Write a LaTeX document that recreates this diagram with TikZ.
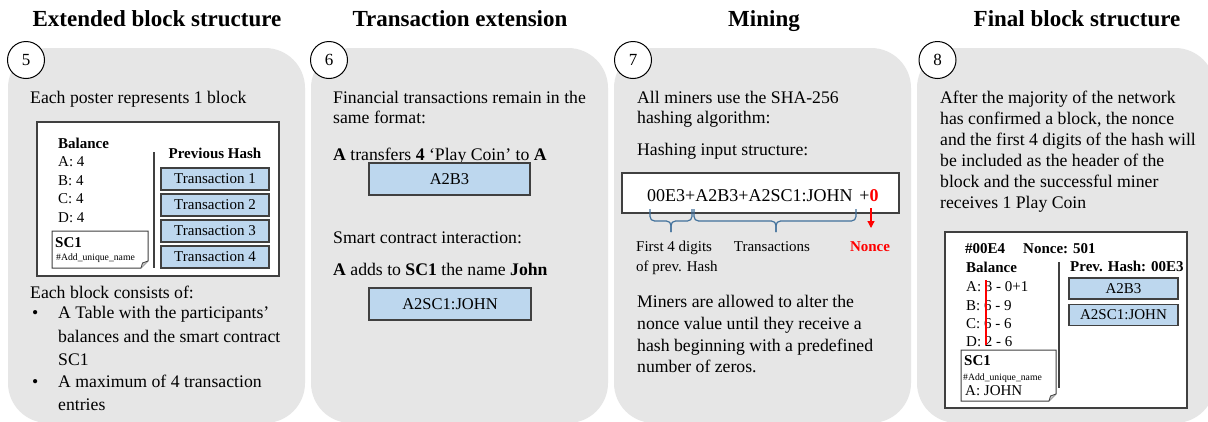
\documentclass[tikz,border=0pt]{standalone}
\usepackage{fontspec}
\setmainfont{Liberation Serif}
\usetikzlibrary{arrows.meta}
\definecolor{panelgray}{HTML}{E6E6E6}
\definecolor{txblue}{HTML}{BDD7EE}
\definecolor{boxgray}{HTML}{404040}
\definecolor{bracecol}{HTML}{41719C}
\definecolor{nred}{HTML}{FF0000}
\tikzset{
  panel/.style={fill=panelgray, draw=none, rounded corners=40pt},
  title/.style={font=\fontsize{23}{27}\selectfont\bfseries, anchor=base, inner sep=0pt},
  body/.style={font=\fontsize{17.7}{21}\selectfont, anchor=base west, inner sep=0pt},
  small/.style={font=\fontsize{15}{18}\selectfont, anchor=base west, inner sep=0pt},
  smallb/.style={font=\fontsize{15}{18}\selectfont\bfseries, anchor=base west, inner sep=0pt},
  tinyt/.style={font=\fontsize{9.7}{11}\selectfont, anchor=base west, inner sep=0pt},
  num/.style={circle, draw=black, fill=white, line width=1pt, minimum size=37pt, inner sep=0pt, font=\fontsize{17}{20}\selectfont},
  blockframe/.style={draw=boxgray, line width=1.3pt, fill=white},
  sepline/.style={draw=boxgray, line width=1.1pt},
  txbox/.style={draw=boxgray, line width=1.1pt, fill=txblue, inner sep=0pt, font=\fontsize{15}{18}\selectfont},
  notebox/.style={draw=boxgray, line width=1pt, fill=white},
  brc/.style={draw=bracecol, line width=1.2pt, rounded corners=4.5pt},
}
\newcommand{\foldnote}[4]{%
  \draw[notebox] (#1,#2) -- (#3,#2) -- (#3,#4-7) -- (#3-7,#4) -- (#1,#4) -- cycle;
  \draw[notebox, fill=gray!45, line width=0.8pt] (#3,#4-7) -- (#3-5.5,#4-5) -- (#3-7,#4);
}
\begin{document}
\begin{tikzpicture}[x=1pt,y=-1pt]
\clip (0,0) rectangle (1208,421);
\fill[white] (0,0) rectangle (1208,421);
% panels
\fill[panel] (8,48) rectangle (305,423);
\fill[panel] (311,48) rectangle (608,423);
\fill[panel] (614,48) rectangle (911,423);
\fill[panel] (917,48) rectangle (1215,423);
% titles
\node[title] (t5) at (157,26) {Extended block structure};
\node[title] (t6) at (460,26) {Transaction extension};
\node[title] (t7) at (764,26) {Mining};
\node[title] (t8) at (1077,26) {Final block structure};
% circles
\node[num] (n5) at (26,60) {5};
\node[num] (n6) at (329,60) {6};
\node[num] (n7) at (633,60) {7};
\node[num] (n8) at (937.5,60) {8};

% ---------- panel 5
\node[body] (p5a) at (30,103) {Each poster represents 1 block};
\draw[blockframe] (37,122) rectangle (279,276);
\node[smallb] (bal5) at (58,148) {Balance};
\node[small] (ra5) at (58,166.5) {A: 4};
\node[small] (rb5) at (58,185) {B: 4};
\node[small] (rc5) at (58,203.5) {C: 4};
\node[small] (rd5) at (58,222) {D: 4};
\draw[sepline] (154,152) -- (154,268);
\node[smallb, anchor=base] (ph5) at (215,158) {Previous Hash};
\node[txbox, minimum width=108pt, minimum height=22pt] (tx1) at (215,179) {Transaction 1};
\node[txbox, minimum width=108pt, minimum height=22pt] (tx2) at (215,205) {Transaction 2};
\node[txbox, minimum width=108pt, minimum height=22pt] (tx3) at (215,231) {Transaction 3};
\node[txbox, minimum width=108pt, minimum height=22pt] (tx4) at (215,257) {Transaction 4};
\foldnote{52}{231}{148}{268}
\node[smallb] (sc5) at (55,247) {SC1};
\node[tinyt] (add5) at (56,260) {\#Add\_unique\_name};
\node[body] (p5b) at (30,298) {Each block consists of:};
\node[body] (bu1) at (32,318) {•};
\node[body] (l1) at (58,318) {A Table with the participants’};
\node[body] (l2) at (58,342) {balances and the smart contract};
\node[body] (l3) at (58,365) {SC1};
\node[body] (bu2) at (32,387) {•};
\node[body] (l4) at (58,387) {A maximum of 4 transaction};
\node[body] (l5) at (58,410) {entries};

% ---------- panel 6
\node[body] (p6a) at (333,103) {Financial transactions remain in the};
\node[body] (p6b) at (333,123) {same format:};
\node[body] (p6c) at (333,160) {\textbf{A} transfers \textbf{4} ‘Play Coin’ to \textbf{A}};
\node[txbox, minimum width=161pt, minimum height=32pt, font=\fontsize{16.5}{19}\selectfont] (a2b3) at (449.5,179) {A2B3};
\node[body] (p6d) at (333,243) {Smart contract interaction:};
\node[body] (p6e) at (333,275) {\textbf{A} adds to \textbf{SC1} the name \textbf{John}};
\node[txbox, minimum width=162pt, minimum height=32pt, font=\fontsize{16.5}{19}\selectfont] (a2sc) at (450,304) {A2SC1:JOHN};

% ---------- panel 7
\node[body] (p7a) at (637,103) {All miners use the SHA-256};
\node[body] (p7b) at (637,123) {hashing algorithm:};
\node[body] (p7c) at (637,155) {Hashing input structure:};
\draw[blockframe, line width=1.4pt] (622,173) rectangle (899,213);
\node[anchor=base west, inner sep=0pt, font=\fontsize{18}{21}\selectfont] (hash) at (647,201) {00E3+A2B3+A2SC1:JOHN\hspace{7pt}+\textcolor{nred}{\textbf{0}}};
% braces
\coordinate (b1l) at (650,209);
\coordinate (b1r) at (692,209);
\coordinate (b2l) at (694,209);
\coordinate (b2r) at (856,209);
\draw[brc] (b1l) -- ++(0,12) -| (671,232);
\draw[brc] (b1r) -- ++(0,12) -| (671,232);
\draw[brc] (b2l) -- ++(0,12) -| (776,232);
\draw[brc] (b2r) -- ++(0,12) -| (776,232);
\node[small] (fd1) at (636,251.5) {First 4 digits};
\node[small] (fd2) at (636,271.5) {of prev. Hash};
\node[small, anchor=base] (trs) at (772,251.5) {Transactions};
\node[smallb, anchor=base, text=nred] (nonce) at (870,251.5) {Nonce};
\coordinate (arS) at (871,208);
\coordinate (arE) at (871,228);
\draw[nred, line width=1.2pt, -{Triangle[length=7pt,width=7pt]}] (arS) -- (arE);
\node[body] (p7d) at (637,307) {Miners are allowed to alter the};
\node[body] (p7e) at (637,329) {nonce value until they receive a};
\node[body] (p7f) at (637,351) {hash beginning with a predefined};
\node[body] (p7g) at (637,372) {number of zeros.};

% ---------- panel 8
\node[body] (p8a) at (940,103) {After the majority of the network};
\node[body] (p8b) at (940,124) {has confirmed a block, the nonce};
\node[body] (p8c) at (940,145) {and the first 4 digits of the hash will};
\node[body] (p8d) at (940,166) {be included as the header of the};
\node[body] (p8e) at (940,187) {block and the successful miner};
\node[body] (p8f) at (940,208) {receives 1 Play Coin};
\draw[blockframe] (945,232) rectangle (1187,408);
\node[smallb] (hdr) at (965,253) {\#00E4};
\node[smallb] (nc8) at (1023,253) {Nonce: 501};
\node[smallb] (bal8) at (966,272) {Balance};
\node[smallb] (ph8) at (1070,271.5) {Prev. Hash: 00E3};
\node[small] (ra8) at (966,291.5) {A: 3 - 0+1};
\node[small] (rb8) at (966,310) {B: 6 - 9};
\node[small] (rc8) at (966,328) {C: 6 - 6};
\node[small] (rd8) at (966,346.5) {D: 2 - 6};
\draw[nred, line width=1.1pt] (986,280) -- (986,345);
\draw[sepline] (1059,262) -- (1059,388);
\node[txbox, minimum width=109pt, minimum height=21pt] (a2b3b) at (1123.5,288.5) {A2B3};
\node[txbox, minimum width=109pt, minimum height=21pt] (a2scb) at (1123.5,315) {A2SC1:JOHN};
\foldnote{961}{350}{1056}{401}
\node[smallb] (sc8) at (964,365) {SC1};
\node[tinyt] (add8) at (963,380) {\#Add\_unique\_name};
\node[small] (aj8) at (965,395) {A: JOHN};
\end{tikzpicture}
\end{document}
